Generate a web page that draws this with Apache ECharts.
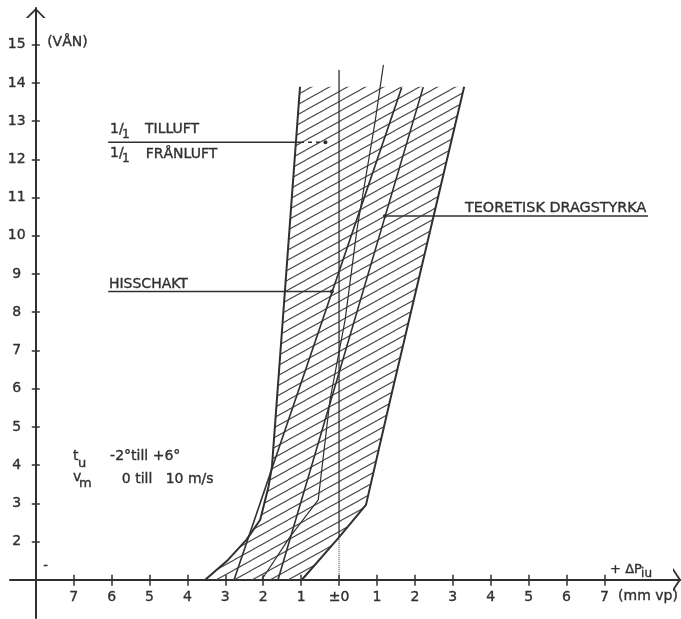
<!DOCTYPE html>
<html>
<head>
<meta charset="utf-8">
<script src="https://cdn.jsdelivr.net/npm/echarts@6/dist/echarts.min.js"></script>
<style>
  html, body { margin: 0; padding: 0; background: #fff; }
  #chart { width: 681px; height: 619px; }
</style>
</head>
<body>
<div id="chart"></div>
<script>
// Axis ticks: floors (VÅN) and pressure difference ΔP_iu (mm vp)
const floorTicks = [2, 3, 4, 5, 6, 7, 8, 9, 10, 11, 12, 13, 14, 15];
const pressureTicks = [-7, -6, -5, -4, -3, -2, -1, 0, 1, 2, 3, 4, 5, 6, 7];

// Envelope of the pressure band, [ΔP, floor], bottom to top
const leftEdge = [[-3.53, 1.0], [-2.93, 1.52], [-2.44, 2.05], [-2.08, 2.57], [-1.86, 3.44], [-1.77, 3.96], [-1.03, 13.9]];
const rightEdge = [[-0.98, 1.0], [-0.02, 2.09], [0.71, 2.96], [1.35, 5.71], [3.30, 13.9]];

// Curves inside the band
const zeroLine = [[0, 2.09], [0, 14.34]];
const zeroLineBelow = [[0, 1.0], [0, 2.09]];
const shaftLine = [[-2.77, 1.0], [1.65, 13.87]];                 // HISSCHAKT
const draftLine = [[-1.61, 1.0], [2.22, 13.89]];                 // TEORETISK DRAGSTYRKA
const windLine = [[-2.04, 1.0], [-1.29, 2.13], [-0.55, 3.09], [-0.24, 5.70],
                  [0.16, 7.80], [0.47, 10.15], [0.95, 12.98], [1.17, 14.47]];

const xMin = -8.68, xMax = 9.02, yMin = 0, yMax = 15.96;
const W = 681, H = 619;
const gridBox = { left: 10, right: 0, top: 8, bottom: 1 };
const gw = W - gridBox.left - gridBox.right;
const gh = H - gridBox.top - gridBox.bottom;
// x axis runs along the first floor, y axis stands at ΔP = -8
const xAxisShift = -(1 - yMin) / (yMax - yMin) * gh;
const yAxisShift = -(-8 - xMin) / (xMax - xMin) * gw;

const ink = '#303030';
const font = 'DejaVu Sans';
const arrowX = 'path://M0,8 L12,0 L24,8 L20.8,8 L12,2.2 L3.2,8 Z';
const arrowY = 'path://M0,10 L10,0 L20,10 L17.5,10 L10,2.5 L2.5,10 Z';

function hatchTile(w, h, color, lw) {
  const c = document.createElement('canvas');
  c.width = w; c.height = h;
  const g = c.getContext('2d');
  g.strokeStyle = color; g.lineWidth = lw;
  for (const k of [-1, 0, 1]) {
    g.beginPath(); g.moveTo(0, h + k * h); g.lineTo(w, k * h); g.stroke();
  }
  return c;
}
const hatch = { image: hatchTile(18, 10, '#4a4a4a', 1.1), repeat: 'repeat' };

const bandPolygon = leftEdge.concat(rightEdge.slice().reverse());

// Text notes and leader lines, placed in chart coordinates
const texts = [
  { t: '(VÅN)', at: [-7.70, 15.07] },
  { t: '1/', at: [-6.04, 12.79] }, { t: '1', at: [-6.04, 12.79], dx: 12, dy: 6, size: 12 },
  { t: 'TILLUFT', at: [-5.12, 12.79] },
  { t: '1/', at: [-6.04, 12.16] }, { t: '1', at: [-6.04, 12.16], dx: 12, dy: 6, size: 12 },
  { t: 'FRÅNLUFT', at: [-5.10, 12.14] },
  { t: 'HISSCHAKT', at: [-6.07, 8.74] },
  { t: 'TEORETISK DRAGSTYRKA', at: [3.32, 10.73], size: 14.4 },
  { t: 't', at: [-7.02, 4.24] }, { t: 'u', at: [-7.02, 4.24], dx: 5, dy: 8, size: 13 },
  { t: '-2°till +6°', at: [-6.04, 4.22] },
  { t: 'v', at: [-7.02, 3.68] }, { t: 'm', at: [-7.02, 3.68], dx: 6, dy: 6, size: 13 },
  { t: '0 till   10 m/s', at: [-5.73, 3.64] },
  { t: '+ ΔP', at: [7.15, 1.26], size: 13 }, { t: 'iu', at: [7.15, 1.26], dx: 31, dy: 4, size: 12 },
  { t: '(mm vp)', at: [7.36, 0.57] },
  { t: '-', at: [-7.80, 1.36], size: 13 }
];
const leaders = [
  { from: [-6.09, 12.45], to: [-1.03, 12.45] },
  { from: [-1.03, 12.45], to: [-0.36, 12.45], dash: true, dot: 'end' },
  { from: [-6.09, 8.54], to: [-0.19, 8.54], dot: 'end' },
  { from: [1.21, 10.52], to: [8.15, 10.52], dot: 'start' }
];

function lineSeries(data, width, type) {
  return {
    type: 'line', data: data, showSymbol: false, silent: true, z: 3,
    lineStyle: { color: ink, width: width, type: type || 'solid' }
  };
}

function tickAxis(dim, inside) {
  const isX = dim === 'x';
  return {
    type: 'value',
    min: isX ? xMin : yMin, max: isX ? xMax : yMax,
    position: isX ? 'bottom' : 'left',
    offset: isX ? xAxisShift : yAxisShift,
    axisLine: { show: false, onZero: false },
    axisTick: { show: true, inside: inside, customValues: isX ? pressureTicks : floorTicks,
      length: isX ? 5 : 4, lineStyle: { color: ink, width: 1.5 } },
    axisLabel: { show: false }, splitLine: { show: false }
  };
}

const labelInk = { color: ink, fontFamily: font, fontSize: 14, textBorderColor: ink, textBorderWidth: 0.35 };

const chart = echarts.init(document.getElementById('chart'), null, { renderer: 'canvas' });
chart.setOption({
  animation: false,
  backgroundColor: '#fff',
  textStyle: { fontFamily: font },
  grid: Object.assign({ containLabel: false, outerBoundsMode: 'none' }, gridBox),
  xAxis: [
    {
      type: 'value', min: xMin, max: xMax, position: 'bottom', offset: xAxisShift,
      axisLine: { show: true, onZero: false, lineStyle: { color: ink, width: 2 },
        symbol: ['none', arrowX], symbolSize: [24, 8], symbolOffset: [0, -4] },
      axisTick: { show: true, customValues: pressureTicks, length: 6, lineStyle: { color: ink, width: 1.5 } },
      axisLabel: Object.assign({ show: true, customValues: pressureTicks, margin: 11,
        formatter: v => (v === 0 ? '±0' : String(Math.abs(v))) }, labelInk),
      splitLine: { show: false }
    },
    tickAxis('x', true)
  ],
  yAxis: [
    {
      type: 'value', min: yMin, max: yMax, position: 'left', offset: yAxisShift,
      axisLine: { show: true, onZero: false, lineStyle: { color: ink, width: 2 },
        symbol: ['none', arrowY], symbolSize: [20, 10], symbolOffset: [0, -5] },
      axisTick: { show: true, customValues: floorTicks, length: 4, lineStyle: { color: ink, width: 1.5 } },
      axisLabel: Object.assign({ show: true, customValues: floorTicks, margin: 19, align: 'center' }, labelInk),
      splitLine: { show: false }
    },
    tickAxis('y', true)
  ],
  series: [
    {
      type: 'custom', silent: true, z: 1, data: [0],
      renderItem: function (params, api) {
        return {
          type: 'polygon',
          shape: { points: bandPolygon.map(p => api.coord(p)) },
          style: { fill: hatch, stroke: null }
        };
      }
    },
    lineSeries(leftEdge, 2),
    lineSeries(rightEdge, 2),
    lineSeries(zeroLine, 1.3),
    lineSeries(zeroLineBelow, 1, 'dotted'),
    lineSeries(shaftLine, 1.6),
    lineSeries(draftLine, 1.6),
    lineSeries(windLine, 1.2),
    {
      type: 'custom', silent: true, z: 5, data: [0],
      renderItem: function (params, api) {
        const children = [];
        leaders.forEach(l => {
          const a = api.coord(l.from), b = api.coord(l.to);
          children.push({ type: 'line', shape: { x1: a[0], y1: a[1], x2: b[0], y2: b[1] },
            style: { stroke: ink, lineWidth: 1.5, lineDash: l.dash ? [4, 4] : null } });
          if (l.dot) {
            const d = l.dot === 'end' ? b : a;
            children.push({ type: 'circle', shape: { cx: d[0], cy: d[1], r: 2 }, style: { fill: ink } });
          }
        });
        texts.forEach(s => {
          const p = api.coord(s.at);
          children.push({ type: 'text', x: p[0] + (s.dx || 0), y: p[1] + (s.dy || 0),
            style: { text: s.t, fill: ink, stroke: ink, lineWidth: 0.35,
              font: (s.size || 14) + 'px "DejaVu Sans"', verticalAlign: 'middle', align: 'left' } });
        });
        return { type: 'group', children: children };
      }
    }
  ]
});
</script>
</body>
</html>
